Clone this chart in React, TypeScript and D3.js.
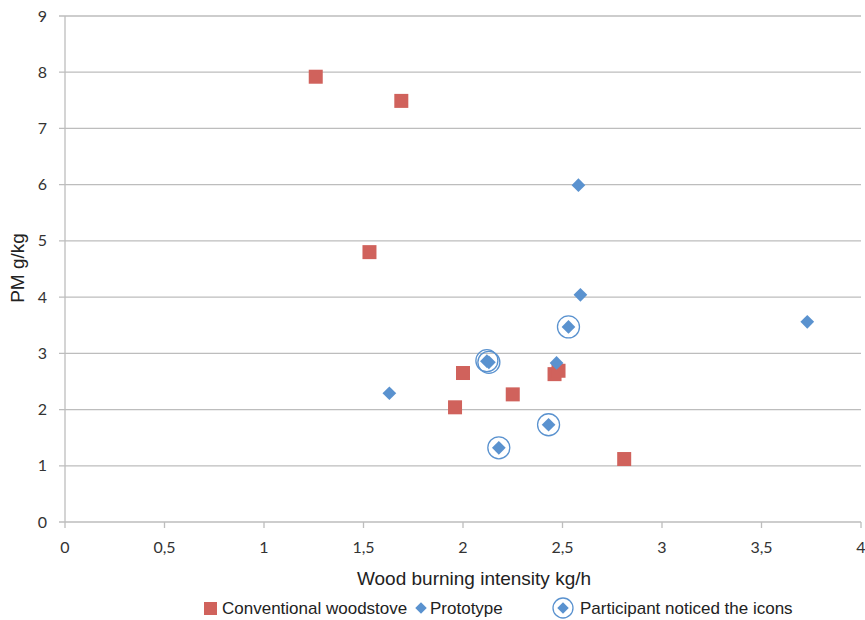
import React from "react";
import * as d3 from "d3";

const conventionalX = [1.26, 1.69, 1.53, 2.0, 1.96, 2.25, 2.46, 2.48, 2.81];
const conventionalY = [7.92, 7.49, 4.8, 2.65, 2.04, 2.27, 2.63, 2.69, 1.12];

const prototypeX = [2.58, 2.59, 3.73, 2.53, 2.12, 2.13, 2.47, 1.63, 2.43, 2.18];
const prototypeY = [5.99, 4.04, 3.56, 3.47, 2.86, 2.84, 2.83, 2.29, 1.73, 1.32];

const noticedX = [2.53, 2.12, 2.13, 2.43, 2.18];
const noticedY = [3.47, 2.87, 2.84, 1.73, 1.32];

const xTicks = [0, 0.5, 1, 1.5, 2, 2.5, 3, 3.5, 4];
const yTicks = [0, 1, 2, 3, 4, 5, 6, 7, 8, 9];

const RED = "#D0625C";
const BLUE = "#5A92CF";
const GRID = "#BDBDBD";

export default function App() {
  const W = 865, H = 620;
  const x = d3.scaleLinear().domain([0, 4]).range([65, 861]);
  const y = d3.scaleLinear().domain([0, 9]).range([522, 16]);
  const fmt = (v: number) => String(v).replace(".", ",");
  const diamond = d3.symbol().type(d3.symbolDiamond2).size(120)();
  const legendDiamond = d3.symbol().type(d3.symbolDiamond2).size(85)();
  const tickFont = "Lato, 'Open Sans', sans-serif";
  const titleFont = "'Liberation Sans', Arial, sans-serif";

  return (
    <svg width={W} height={H} style={{ position: "absolute", left: 0, top: 0, background: "#fff" }}>
      {yTicks.map((t) => (
        <g key={"y" + t}>
          <line x1={59} x2={861} y1={y(t)} y2={y(t)} stroke={GRID} strokeWidth={1.3} />
          <text x={47} y={y(t)} dy="0.35em" textAnchor="end" fontFamily={tickFont} fontSize={16} fill="#333">
            {t}
          </text>
        </g>
      ))}
      <line x1={65} x2={65} y1={y(9)} y2={y(0)} stroke={GRID} strokeWidth={1.3} />
      {xTicks.map((t) => (
        <g key={"x" + t}>
          <line x1={x(t)} x2={x(t)} y1={522} y2={528} stroke={GRID} strokeWidth={1.3} />
          <text x={x(t)} y={553} textAnchor="middle" fontFamily={tickFont} fontSize={16} fill="#333">
            {fmt(t)}
          </text>
        </g>
      ))}
      <text x={474} y={585} textAnchor="middle" fontFamily={titleFont} fontSize={19} fill="#222">
        Wood burning intensity kg/h
      </text>
      <text transform={`translate(24,268) rotate(-90)`} textAnchor="middle" fontFamily={titleFont} fontSize={19} fill="#222">
        PM g/kg
      </text>

      {conventionalX.map((v, i) => (
        <rect key={"c" + i} x={x(v) - 7} y={y(conventionalY[i]) - 7} width={14} height={14} fill={RED} />
      ))}
      {prototypeX.map((v, i) => (
        <path key={"p" + i} d={diamond || ""} transform={`translate(${x(v)},${y(prototypeY[i])})`} fill={BLUE} />
      ))}
      {noticedX.map((v, i) => (
        <circle key={"n" + i} cx={x(v)} cy={y(noticedY[i])} r={11} fill="none" stroke={BLUE} strokeWidth={1.3} />
      ))}

      <g fontFamily={titleFont} fontSize={17} fill="#222">
        <rect x={204} y={602} width={13} height={13} fill={RED} />
        <text x={222} y={608} dy="0.35em">Conventional woodstove</text>
        <path d={legendDiamond || ""} transform="translate(421,608)" fill={BLUE} />
        <text x={430} y={608} dy="0.35em">Prototype</text>
        <circle cx={563} cy={608} r={10} fill="none" stroke={BLUE} strokeWidth={1.3} />
        <path d={legendDiamond || ""} transform="translate(563,608)" fill={BLUE} />
        <text x={580} y={608} dy="0.35em">Participant noticed the icons</text>
      </g>
    </svg>
  );
}
